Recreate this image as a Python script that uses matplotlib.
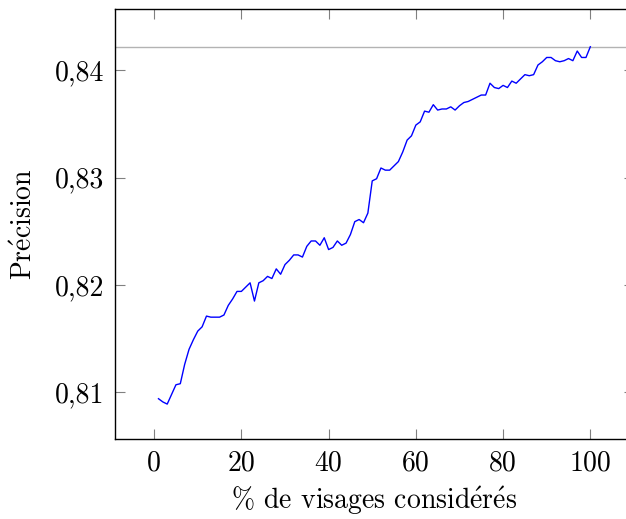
import matplotlib
matplotlib.use("Agg")
from matplotlib import pyplot as plt

# share of faces considered (%) and precision
x_pct = list(range(1, 101))
precision = [
    0.8094, 0.8091, 0.8089, 0.8098, 0.8107, 0.8108, 0.8126, 0.8140, 0.8149, 0.8157,
    0.8161, 0.8171, 0.8170, 0.8170, 0.8170, 0.8172, 0.8181, 0.8187, 0.8194, 0.8194,
    0.8198, 0.8202, 0.8185, 0.8202, 0.8204, 0.8208, 0.8206, 0.8215, 0.8210, 0.8219,
    0.8223, 0.8228, 0.8228, 0.8226, 0.8236, 0.8241, 0.8241, 0.8237, 0.8244, 0.8233,
    0.8235, 0.8241, 0.8237, 0.8239, 0.8247, 0.8259, 0.8261, 0.8258, 0.8267, 0.8297,
    0.8299, 0.8309, 0.8307, 0.8307, 0.8311, 0.8315, 0.8324, 0.8335, 0.8339, 0.8349,
    0.8352, 0.8362, 0.8361, 0.8368, 0.8363, 0.8364, 0.8364, 0.8366, 0.8363, 0.8367,
    0.8370, 0.8371, 0.8373, 0.8375, 0.8377, 0.8377, 0.8388, 0.8384, 0.8383, 0.8386,
    0.8384, 0.8390, 0.8388, 0.8392, 0.8396, 0.8395, 0.8396, 0.8405, 0.8408, 0.8412,
    0.8412, 0.8409, 0.8408, 0.8409, 0.8411, 0.8409, 0.8418, 0.8412, 0.8412, 0.8422,
]
baseline = 0.8422

x_ticks = [0, 20, 40, 60, 80, 100]
y_ticks = [0.81, 0.82, 0.83, 0.84]
y_ticklabels = ["0,81", "0,82", "0,83", "0,84"]

plt.rcParams["font.family"] = ["cmr10", "DejaVu Serif"]
plt.rcParams["mathtext.fontset"] = "cm"
plt.rcParams["axes.formatter.use_mathtext"] = True

# cmr10 has no é, build it with a mathtext accent
E_ACUTE = r"$\mathrm{\acute{e}}$"

fig = plt.figure(figsize=(6.26, 5.19), dpi=100)
# right side of the axes runs slightly past the image edge, like the reference
ax = fig.add_axes([0.1842, 0.1536, 1.012 - 0.1842, 0.9821 - 0.1536])

ax.axhline(baseline, color="#b3b3b3", lw=1.0, zorder=1)
ax.plot(x_pct, precision, color="#0000ff", lw=1.0, zorder=2)

ax.set_xlim(-8.9, 109.9)
ax.set_ylim(0.80562, 0.84569)
ax.set_xticks(x_ticks)
ax.set_xticklabels([str(t) for t in x_ticks])
ax.set_yticks(y_ticks)
ax.set_yticklabels(y_ticklabels)

ax.tick_params(direction="in", length=7.5, width=0.8, color="#808080",
               top=True, right=True, labelsize=20, pad=8)
for s in ax.spines.values():
    s.set_linewidth(1.0)

ax.set_xlabel("% de visages consid" + E_ACUTE + "r" + E_ACUTE + "s", fontsize=20, labelpad=5)
ax.set_ylabel("Pr" + E_ACUTE + "cision", fontsize=20, labelpad=12)

fig.savefig("out.png", dpi=100)
